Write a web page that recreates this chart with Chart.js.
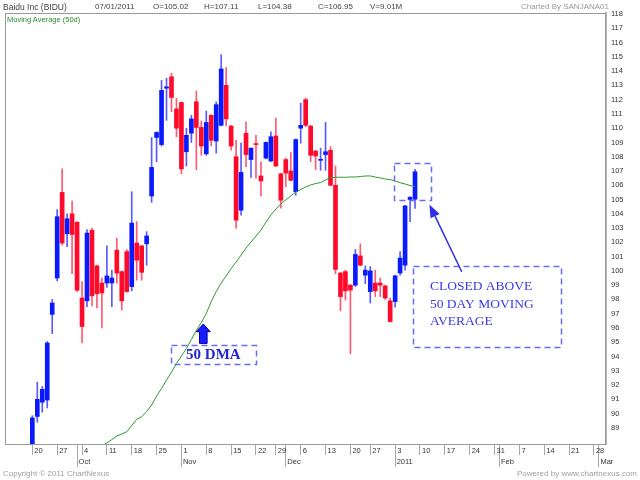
<!DOCTYPE html>
<html>
<head>
<meta charset="utf-8">
<title>Baidu Inc (BIDU)</title>
<script src="https://cdn.jsdelivr.net/npm/chart.js@4.4.1/dist/chart.umd.min.js"></script>
<style>
  body { margin: 0; background: #fff; }
  #wrap { position: relative; width: 640px; height: 480px; overflow: hidden; }
  #wrap canvas { position: absolute; left: 0; top: 0; }
  .t { position: absolute; font: 8px "Liberation Sans", Arial, sans-serif; color: #444; white-space: nowrap; line-height: 10px; }
  .ma { color: #2e8b2e; font-size: 7.5px; }
  .foot { color: #a0a0a0; }
</style>
</head>
<body>
<div id="wrap">
  <canvas id="chart" width="640" height="480"></canvas>
  <div class="t" style="left:3px;top:2px;font-size:8.5px">Baidu Inc (BIDU)</div>
  <div class="t" style="left:95px;top:2px">07/01/2011</div>
  <div class="t" style="left:153px;top:2px">O=105.02</div>
  <div class="t" style="left:204px;top:2px">H=107.11</div>
  <div class="t" style="left:258px;top:2px">L=104.38</div>
  <div class="t" style="left:318px;top:2px">C=106.95</div>
  <div class="t" style="left:370px;top:2px">V=9.01M</div>
  <div class="t" style="right:31px;top:2px;color:#999">Charted By SANJANA01</div>
  <div class="t ma" style="left:7px;top:15px">Moving Average (50d)</div>
  <div class="t foot" style="left:3px;top:469px">Copyright © 2011 ChartNexus</div>
  <div class="t foot" style="right:3px;top:469px">Powered by www.chartnexus.com</div>
</div>
<script>
// BIDU daily candles, 20 Sep 2010 (index 0) .. 7 Jan 2011 (index 77), one slot per trading day
const open  = [87.2, 89.8, 90.8, 90.95, 96.95, 99.5, 105.5, 102.6, 104.0, 103.4,
               98.1, 97.9, 102.85, 100.35, 99.15, 99.15, 99.15, 101.45, 99.95, 101.35,
               98.9, 101.95, 101.75, 101.9, 105.25, 109.35, 108.85, 112.8, 113.6, 111.35,
               111.8, 108.35, 109.65, 111.85, 110.05, 108.2, 110.9, 109.1, 110.2, 113.0,
               110.15, 108.0, 104.25, 109.65, 107.8, 108.9, 106.65, 107.9, 107.7, 109.45,
               106.8, 107.8, 107.0, 105.55, 110.0, 112.0, 110.15, 108.4, 107.75, 108.15,
               108.45, 106.0, 99.85, 99.95, 99.0, 99.0, 101.05, 99.7, 98.55, 99.15,
               99.15, 98.95, 97.9, 97.85, 99.85, 100.4, 105.0, 105.02];
const high  = [89.85, 92.2, 91.9, 95.05, 98.0, 104.3, 107.15, 104.0, 104.9, 103.45,
               99.25, 102.9, 103.0, 100.4, 99.5, 101.75, 100.05, 102.3, 100.0, 101.5,
               105.55, 103.45, 101.8, 102.75, 109.35, 109.75, 113.35, 113.5, 113.85, 112.1,
               111.85, 110.0, 110.9, 112.6, 110.5, 111.2, 110.95, 111.85, 115.15, 114.25,
               110.2, 109.15, 108.95, 110.45, 108.6, 109.5, 107.65, 109.05, 109.75, 110.7,
               106.85, 107.9, 108.3, 109.25, 111.75, 112.1, 110.2, 108.45, 108.6, 110.4,
               108.7, 107.35, 99.9, 100.05, 99.05, 101.5, 101.9, 100.35, 100.3, 100.05,
               99.5, 99.0, 98.1, 99.7, 101.35, 104.6, 105.2, 107.11];
const low   = [86.8, 89.4, 90.1, 90.4, 95.6, 99.3, 101.8, 101.7, 99.8, 98.55,
               94.95, 97.5, 97.55, 97.4, 96.0, 98.85, 97.5, 99.15, 97.25, 98.5,
               98.6, 99.35, 99.35, 100.4, 104.8, 107.65, 108.75, 110.55, 111.15, 109.4,
               106.8, 107.35, 109.0, 107.1, 108.1, 108.1, 108.75, 108.25, 110.15, 110.15,
               108.45, 103.0, 103.9, 107.3, 106.55, 106.5, 105.25, 107.85, 107.65, 107.3,
               104.4, 105.9, 106.3, 105.3, 108.95, 110.1, 107.65, 107.1, 107.05, 107.05,
               105.95, 99.8, 97.2, 97.95, 94.2, 98.9, 100.35, 99.1, 97.75, 98.2,
               98.2, 98.0, 96.4, 97.45, 99.7, 100.05, 103.45, 104.38];
const close = [89.7, 91.0, 91.7, 94.95, 97.75, 103.8, 101.95, 103.65, 102.55, 98.65,
               96.1, 102.65, 98.25, 98.4, 98.45, 99.65, 99.5, 99.85, 97.9, 98.55,
               103.35, 100.75, 99.9, 102.45, 107.25, 109.7, 112.65, 112.9, 112.15, 110.0,
               107.15, 109.5, 110.65, 110.05, 108.75, 110.4, 109.15, 111.65, 114.15, 110.65,
               108.75, 103.55, 106.9, 108.15, 108.6, 108.85, 106.3, 109.0, 109.4, 107.35,
               104.95, 106.85, 106.35, 109.2, 110.2, 110.2, 108.1, 108.05, 107.8, 108.35,
               106.0, 100.1, 98.2, 98.6, 98.65, 101.15, 100.4, 100.05, 100.0, 98.6,
               99.0, 98.1, 96.45, 99.65, 100.9, 104.55, 105.15, 106.95];
// 50 day moving average (below the chart before index 14)
const ma50  = [null, null, null, null, null, null, null, null, null, null,
               null, null, null, null, 87.76, 87.94, 88.18, 88.43, 88.57, 88.73,
               89.16, 89.6, 89.78, 90.14, 90.6, 91.23, 91.76, 92.35, 92.91, 93.51,
               94.03, 94.56, 95.19, 95.82, 96.38, 97.01, 97.85, 98.55, 99.15, 99.64,
               100.17, 100.62, 101.11, 101.6, 102.02, 102.44, 102.86, 103.42, 103.91, 104.33,
               104.69, 104.97, 105.25, 105.53, 105.7, 105.88, 106.02, 106.12, 106.19, 106.37,
               106.54, 106.56, 106.56, 106.56, 106.58, 106.58, 106.61, 106.65, 106.65, 106.58,
               106.51, 106.44, 106.4, 106.3, 106.18, 106.09, 105.98, 105.9];

// x axis: weekly ticks (Mondays) and month starts, as trading-day slots
const weekTicks  = [0, 5, 10, 15, 20, 25, 30, 35, 40, 45, 49, 54, 59, 64, 68, 73, 78, 83, 88, 93, 98, 103, 108, 113];
const weekLabels = ['20', '27', '4', '11', '18', '25', '1', '8', '15', '22', '29', '6', '13', '20', '27', '3', '10', '17', '24', '31', '7', '14', '21', '28'];
const monthTicks  = [9, 30, 51, 73, 94, 114];
const monthLabels = ['Oct', 'Nov', 'Dec', '2011', 'Feb', 'Mar'];

const UP = '#0a1aff', DOWN = '#ff0a2a';
const UP_WICK = '#5a5aff', DOWN_WICK = '#ff5a72';
const isUp = i => close[i] >= open[i];

const allTicks = [...new Set(weekTicks.concat(monthTicks))].sort((a, b) => a - b);
const tickFont = { family: '"Liberation Sans", Arial, sans-serif', size: 7.5 };

// frame round the plot area
const framePlugin = {
  id: 'frame',
  beforeDatasetsDraw(chart) {
    const { ctx, chartArea: a } = chart;
    ctx.save();
    ctx.strokeStyle = '#9a9a9a';
    ctx.lineWidth = 1;
    ctx.strokeRect(a.left + 0.5, a.top + 0.5, a.right - a.left - 1, a.bottom - a.top);
    ctx.restore();
  }
};

// hand drawn notes: dashed boxes, arrows, texts (placed in data units)
const notesPlugin = {
  id: 'notes',
  afterDatasetsDraw(chart) {
    const { ctx } = chart;
    const px = v => chart.scales.x.getPixelForValue(v);
    const py = v => chart.scales.y.getPixelForValue(v);
    ctx.save();

    ctx.strokeStyle = '#6c6cf2';
    ctx.lineWidth = 1.5;
    ctx.setLineDash([6, 4]);
    const box = (i1, v1, i2, v2) => {
      const x1 = Math.round(px(i1)) + 0.5, y1 = Math.round(py(v1)) + 0.5;
      const x2 = Math.round(px(i2)) + 0.5, y2 = Math.round(py(v2)) + 0.5;
      ctx.strokeRect(x1, y1, x2 - x1, y2 - y1);
    };
    box(72.8, 107.54, 80.2, 104.97);
    box(76.5, 100.34, 106.3, 94.69);
    box(27.9, 94.8, 44.95, 93.47);
    ctx.setLineDash([]);

    // slanted arrow to the last candle
    const ax = px(86.4), ay = py(99.94), bx = px(79.9), by = py(104.66);
    const ang = Math.atan2(by - ay, bx - ax);
    const hl = 13, hw = 5;
    const cx = bx - hl * Math.cos(ang), cy = by - hl * Math.sin(ang);
    ctx.strokeStyle = '#2f2fe6';
    ctx.fillStyle = '#2f2fe6';
    ctx.lineWidth = 1.5;
    ctx.beginPath(); ctx.moveTo(ax, ay); ctx.lineTo(cx, cy); ctx.stroke();
    ctx.beginPath();
    ctx.moveTo(bx, by);
    ctx.lineTo(cx + hw * Math.sin(ang), cy - hw * Math.cos(ang));
    ctx.lineTo(cx - hw * Math.sin(ang), cy + hw * Math.cos(ang));
    ctx.closePath(); ctx.fill();

    // thick up arrow under the average
    const ux = px(34.4), tip = py(96.28), base = py(95.74), foot = py(94.92);
    ctx.fillStyle = '#1a1aff';
    ctx.strokeStyle = '#0000a0';
    ctx.lineWidth = 1;
    ctx.beginPath();
    ctx.moveTo(ux, tip);
    ctx.lineTo(ux + 7, base);
    ctx.lineTo(ux + 3.8, base);
    ctx.lineTo(ux + 3.8, foot);
    ctx.lineTo(ux - 3.8, foot);
    ctx.lineTo(ux - 3.8, base);
    ctx.lineTo(ux - 7, base);
    ctx.closePath(); ctx.fill(); ctx.stroke();

    ctx.fillStyle = '#2424d6';
    ctx.textBaseline = 'middle';
    ctx.textAlign = 'center';
    ctx.font = 'bold 15px "Liberation Serif", "Times New Roman", serif';
    ctx.fillText('50 DMA', px(36.42), py(94.1));

    ctx.fillStyle = '#3a3ae2';
    ctx.textAlign = 'left';
    ctx.font = '13.5px "Liberation Serif", "Times New Roman", serif';
    ctx.fillText('CLOSED ABOVE', px(80), py(98.89));
    ctx.fillText('50 DAY MOVING', px(80), py(97.68));
    ctx.fillText('AVERAGE', px(80), py(96.44));
    ctx.restore();
  }
};

new Chart(document.getElementById('chart'), {
  type: 'bar',
  data: {
    datasets: [
      {
        type: 'line',
        label: 'Moving Average (50d)',
        data: ma50.map((v, i) => ({ x: i, y: v })),
        borderColor: '#2c9a2c',
        borderWidth: 1,
        pointRadius: 0,
        tension: 0,
        order: 0
      },
      {
        label: 'body',
        data: open.map((o, i) => ({ x: i, y: [o, close[i]] })),
        backgroundColor: c => isUp(c.dataIndex) ? UP : DOWN,
        barThickness: 4,
        minBarLength: 1,
        grouped: false,
        order: 1
      },
      {
        label: 'wick',
        data: low.map((l, i) => ({ x: i, y: [l, high[i]] })),
        backgroundColor: c => isUp(c.dataIndex) ? UP_WICK : DOWN_WICK,
        barThickness: 1,
        grouped: false,
        order: 2
      }
    ]
  },
  options: {
    responsive: false,
    devicePixelRatio: 1,
    animation: false,
    layout: { padding: { left: 5, top: 13, right: 0, bottom: 0 } },
    plugins: { legend: { display: false }, tooltip: { enabled: false } },
    scales: {
      x: {
        type: 'linear',
        position: 'bottom',
        min: -5.5,
        max: 115.43,
        offset: false,
        weight: 0,
        afterBuildTicks: s => { s.ticks = allTicks.map(v => ({ value: v })); },
        afterFit: s => { s.height = 11; },
        grid: { offset: false, drawOnChartArea: false, tickLength: 11, tickColor: '#a8a8a8' },
        border: { color: '#8a8a8a' },
        ticks: {
          autoSkip: false, maxRotation: 0, align: 'start', labelOffset: 2, padding: -9,
          color: '#333', font: tickFont,
          callback: v => { const k = weekTicks.indexOf(v); return k >= 0 ? weekLabels[k] : ''; }
        }
      },
      x2: {
        type: 'linear',
        position: 'bottom',
        min: -5.5,
        max: 115.43,
        offset: false,
        weight: 1,
        afterBuildTicks: s => { s.ticks = monthTicks.map(v => ({ value: v })); },
        afterFit: s => { s.height = 25; },
        grid: { offset: false, drawOnChartArea: false, tickLength: 12, tickColor: '#a8a8a8' },
        border: { display: false },
        ticks: {
          autoSkip: false, maxRotation: 0, align: 'start', labelOffset: 1.5, padding: -10,
          color: '#333', font: tickFont,
          callback: v => { const k = monthTicks.indexOf(v); return k >= 0 ? monthLabels[k] : ''; }
        }
      },
      y: {
        type: 'linear',
        position: 'right',
        min: 87.87,
        max: 118.07,
        afterFit: s => { s.width = 34; },
        grid: { display: false, drawTicks: false },
        border: { color: '#b4b4b4', width: 2 },
        ticks: {
          stepSize: 1, includeBounds: false, autoSkip: false, maxTicksLimit: 100, padding: 5,
          color: '#333', font: tickFont,
          callback: v => v >= 89 ? v : ''
        }
      }
    }
  },
  plugins: [framePlugin, notesPlugin]
});
</script>
</body>
</html>
